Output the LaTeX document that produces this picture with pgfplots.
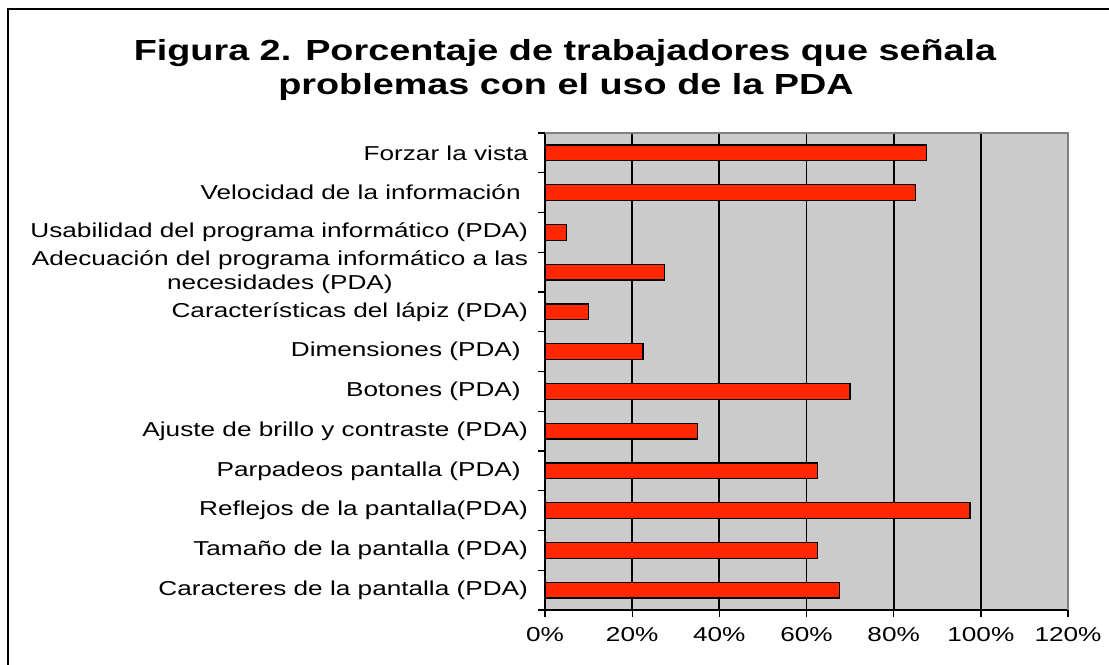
\documentclass[border=0pt]{standalone}
\usepackage{pgfplots}
\pgfplotsset{compat=1.18}
\usepackage{fontspec}
\setmainfont{Liberation Sans}[FakeStretch=1.3]
\definecolor{barred}{RGB}{255,38,0}
\definecolor{plotgray}{RGB}{203,203,203}
\definecolor{bordergray}{RGB}{128,128,128}
\begin{document}
\begin{tikzpicture}
\useasboundingbox (0,0) rectangle (831.75pt,498pt);
\draw[line width=1.5pt] (6pt,-2pt) -- (6pt,491.25pt) -- (835pt,491.25pt);
\node[font=\fontsize{21.8}{24}\selectfont\bfseries, anchor=base] at (423.75pt,452.25pt) {Figura 2. Porcentaje de trabajadores que señala};
\node[font=\fontsize{21.8}{24}\selectfont\bfseries, anchor=base] at (424.5pt,426.75pt) {problemas con el uso de la PDA};
\begin{axis}[
  at={(408.75pt,40.5pt)}, anchor=south west,
  scale only axis, width=392.25pt, height=357.75pt,
  xbar, bar width=0.4,
  xmin=0, xmax=120, ymin=-0.5, ymax=11.5,
  axis background/.style={fill=plotgray},
  axis x line*=bottom, axis y line*=left,
  axis line style={black, line width=1.2pt},
  xtick={0,20,...,120},
  xticklabel={\pgfmathprintnumber{\tick}\%},
  /pgf/number format/assume math mode=true,
  xmajorgrids, major grid style={black, line width=1.3pt},
  ytick={0,...,11},
  minor ytick={-0.5,0.5,...,11.5},
  major y tick style={draw=none},
  tick align=outside,
  major tick length=5.25pt, minor tick length=5.25pt,
  tick style={black, line width=1pt},
  yticklabels={
    Caracteres de la pantalla (PDA),
    Tamaño de la pantalla (PDA),
    Reflejos de la pantalla(PDA),
    Parpadeos pantalla (PDA)~,
    Ajuste de brillo y contraste (PDA),
    Botones (PDA)~,
    Dimensiones (PDA)~,
    Características del lápiz (PDA),
    {Adecuación del programa informático a las\\necesidades (PDA)},
    Usabilidad del programa informático (PDA),
    Velocidad de la información~,
    Forzar la vista},
  yticklabel style={align=center, font=\fontsize{15.1}{17.5}\selectfont, xshift=-4pt},
  xticklabel style={font=\fontsize{15.1}{17.5}\selectfont, yshift=-4.5pt},
  clip=false,
]
\addplot[fill=barred, draw=black, line width=0.9pt] coordinates {
  (67.5,0) (62.5,1) (97.5,2) (62.5,3) (35,4) (70,5)
  (22.5,6) (10,7) (27.5,8) (5,9) (85,10) (87.5,11)};
\draw[bordergray, line width=1.5pt] (rel axis cs:0,1) -- (rel axis cs:1,1) -- (rel axis cs:1,0);
\end{axis}
\end{tikzpicture}
\end{document}
